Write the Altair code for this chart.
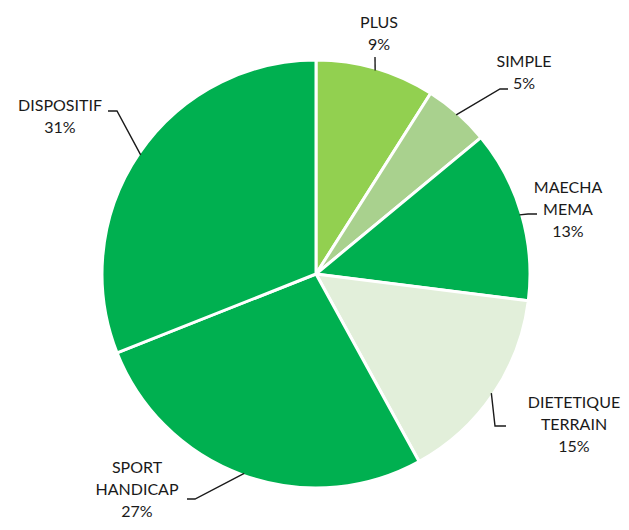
import math
import altair as alt
import pandas as pd

# ---- data ----
categories = ["PLUS", "SIMPLE", "MAECHA MEMA", "DIETETIQUE TERRAIN", "SPORT HANDICAP", "DISPOSITIF"]
label_lines = [["PLUS"], ["SIMPLE"], ["MAECHA", "MEMA"], ["DIETETIQUE", "TERRAIN"], ["SPORT", "HANDICAP"], ["DISPOSITIF"]]
values = [9, 5, 13, 15, 27, 31]
colors = ["#92D050", "#A9D18E", "#00B050", "#E2EFDA", "#00B050", "#00B050"]

# ---- layout (pixels relative to pie centre, y down) ----
W, H = 613, 514
CX, CY = 308, 266
R = 212
LINE_H = 22
text_anchor = [(63, -251.5), (208, -212), (252, -86.5), (258, 128.5), (-179, 194), (-256, -168)]
elbow = [(59, -217), (184, -185), (212, -60), (179, 152), (-121, 225), (-199, -163)]
tail = [(59, -217), (192, -185), (221, -60), (190, 152), (-129, 225), (-208, -163)]

total = sum(values)
pie_df = pd.DataFrame({"cat": categories, "value": values, "idx": list(range(len(values)))})

# leader lines
rows = []
cum = 0
for i, v in enumerate(values):
    mid = (cum + v / 2) / total * 2 * math.pi
    cum += v
    p0 = (math.sin(mid), math.cos(mid))
    pts = [p0, (elbow[i][0] / R, -elbow[i][1] / R), (tail[i][0] / R, -tail[i][1] / R)]
    for k, (x, y) in enumerate(pts):
        rows.append({"cat": categories[i], "k": k, "x": x, "y": y})
line_df = pd.DataFrame(rows)

# label texts
trows = []
for i, lines in enumerate(label_lines):
    all_lines = lines + [f"{values[i]}%"]
    for j, t in enumerate(all_lines):
        ax, ay = text_anchor[i]
        trows.append({"t": t, "x": ax / R, "y": -(ay + j * LINE_H) / R})
text_df = pd.DataFrame(trows)

xs = alt.Scale(domain=[-CX / R, (W - CX) / R], nice=False, zero=False)
ys = alt.Scale(domain=[-(H - CY) / R, CY / R], nice=False, zero=False)

pie = alt.Chart(pie_df).mark_arc(outerRadius=R + 2, stroke="white", strokeWidth=3).encode(
    theta=alt.Theta("value:Q", stack=True),
    order=alt.Order("idx:Q"),
    color=alt.Color("cat:N", scale=alt.Scale(domain=categories, range=colors), legend=None),
    x=alt.X(datum=0, type="quantitative", scale=xs, axis=None),
    y=alt.Y(datum=0, type="quantitative", scale=ys, axis=None),
)

leaders = alt.Chart(line_df).mark_line(color="#1a1a1a", strokeWidth=1.4).encode(
    x=alt.X("x:Q", scale=xs, axis=None),
    y=alt.Y("y:Q", scale=ys, axis=None),
    detail="cat:N",
    order="k:Q",
)

texts = alt.Chart(text_df).mark_text(
    font="Lato", fontSize=16, color="#1a1a1a", align="center", baseline="middle"
).encode(
    x=alt.X("x:Q", scale=xs, axis=None),
    y=alt.Y("y:Q", scale=ys, axis=None),
    text="t:N",
)

chart = alt.layer(pie, leaders, texts).properties(
    width=W, height=H, autosize=alt.AutoSizeParams(type="none"), padding=0
).configure_view(stroke=None)

chart.save("out.html", embed_options={"renderer": "svg", "actions": False})
